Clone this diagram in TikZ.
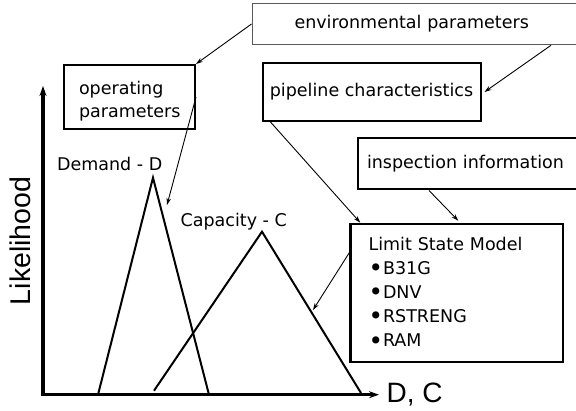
\documentclass[tikz,border=0pt]{standalone}
\usepackage{fontspec}
\setmainfont{DejaVu Sans}
\newfontfamily\axisfont{Liberation Sans}
\usetikzlibrary{arrows.meta}
\newcommand{\bigbul}{\raisebox{-2.2pt}{\scalebox{1.4}{•}}}
\begin{document}
\begin{tikzpicture}[x=1pt,y=-1pt,
  box/.style={draw, line width=2pt, inner ysep=0pt, font=\fontsize{17.5}{24.2}\selectfont},
  conn/.style={line width=0.9pt, -{Stealth[length=7pt,width=4.5pt]}},
  axisline/.style={line width=3.5pt, line join=miter, {Stealth[length=10pt,width=7pt]}-{Stealth[length=10pt,width=7pt]}},
  curve/.style={line width=2pt},
  lbl/.style={font=\fontsize{17.5}{21}\selectfont, inner sep=0pt},
  axlbl/.style={font=\axisfont\fontsize{28.5}{30}\selectfont, inner sep=0pt}
]
\useasboundingbox (0,0) rectangle (576,411);
\clip (0,0) rectangle (576,411);

% boxes
\node[box, line width=1pt, draw=black!65, anchor=north west, minimum height=41.6pt,
      text width=263.5pt, inner xsep=42.5pt, align=left] (env) at (251.5,2.7) {environmental parameters};
\node[box, anchor=north west, minimum width=131pt, minimum height=64pt, text width=101pt,
      inner xsep=15pt, align=left, font=\fontsize{17.5}{23.4}\selectfont] (op) at (63,64) {\rule{0pt}{21.6pt}operating\\parameters};
\node[box, minimum width=218pt, minimum height=58pt] (pipe) at (371.5,92) {pipeline characteristics};
\node[box, anchor=north west, minimum height=51.5pt, text width=224.7pt, inner xsep=9.3pt,
      align=left] (insp) at (356.7,137) {inspection information};
\node[box, line width=2.5pt, anchor=north west, minimum width=212.4pt, minimum height=138pt,
      text width=176.4pt, inner xsep=18pt, align=left] (lsm) at (349.3,222.7)
      {Limit State Model\\\bigbul B31G\\\bigbul DNV\\\bigbul RSTRENG\\\bigbul RAM};

% labels
\node[lbl, anchor=base] (dem) at (109.7,170.7) {Demand - D};
\node[lbl, anchor=base] (cap) at (233.7,227) {Capacity - C};
\node[axlbl, rotate=90, anchor=base] (lik) at (30.7,241) {Likelihood};
\node[axlbl, font=\axisfont\fontsize{28}{30}\selectfont, anchor=base] (dc) at (414.7,402.7) {D, C};

% axes
\coordinate (O) at (43,394.7);
\coordinate (ytop) at (43,86);
\coordinate (xend) at (379,394.7);
\draw[axisline] (ytop) -- (O) -- (xend);

% distributions
\coordinate (d1) at (98,394.7);
\coordinate (d2) at (153,177.7);
\coordinate (d3) at (209,394.7);
\draw[curve] (d1) -- (d2) -- (d3);
\coordinate (c1) at (154,390.7);
\coordinate (c2) at (262,231.7);
\coordinate (c3) at (361,393);
\draw[curve] (c1) -- (c2) -- (c3);

% connectors
\coordinate (dtip) at (167,205);
\coordinate (ctip) at (313,310);
\draw[conn] (env.west) -- (op.north east);
\draw[conn] ([xshift=299.5pt]env.south west) -- ([xshift=3pt]pipe.east);
\draw[conn] (op.east) -- (dtip);
\draw[conn] ([xshift=9pt]pipe.south west) -- ([xshift=11pt]lsm.north west);
\draw[conn] ([xshift=72.3pt]insp.south west) -- ([xshift=109pt,yshift=2pt]lsm.north west);
\draw[conn] ([yshift=-30pt]lsm.north west) -- (ctip);
\end{tikzpicture}
\end{document}
